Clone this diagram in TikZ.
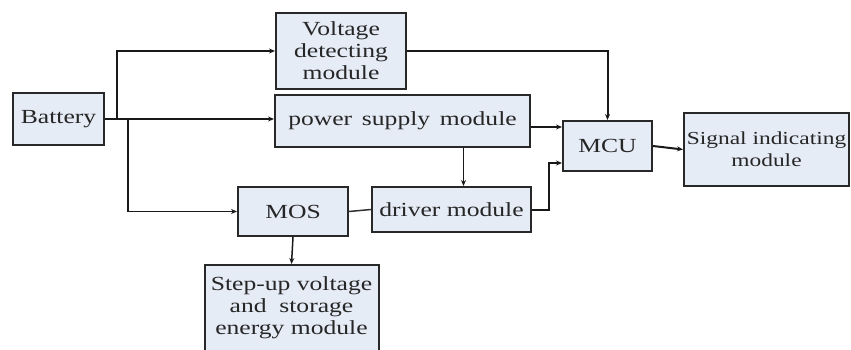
\documentclass[tikz,border=0pt]{standalone}
\usepackage{fontspec}
\setmainfont{Liberation Serif}[FakeStretch=1.28]
\usetikzlibrary{arrows.meta}
\definecolor{boxfill}{RGB}{230,236,246}
\definecolor{boxline}{RGB}{40,40,40}
\tikzset{
  box/.style={draw=boxline, line width=2pt, fill=boxfill, inner sep=2pt,
    align=center, font=\fontsize{20}{22}\selectfont, text=black!85},
  conn/.style={draw=black!90, line width=2pt, -{Stealth[length=6pt,width=5pt]}},
  plainconn/.style={draw=black!80, line width=1.5pt}
}
\begin{document}
\begin{tikzpicture}[x=1pt,y=-1pt]
\useasboundingbox (0,0) rectangle (851,350);
\node[box, minimum width=91, minimum height=52] (bat) at (58.5,119) {Battery};
\node[box, minimum width=130, minimum height=76] (vd) at (341,51) {Voltage\\detecting\\module};
\node[box, minimum width=255, minimum height=52] (ps) at (402.5,121) {power\ \,supply\ \,module};
\node[box, minimum width=89, minimum height=50] (mcu) at (607.5,146) {MCU};
\node[box, inner sep=0pt, minimum width=165, minimum height=73, font=\fontsize{18.3}{22}\selectfont] (sig) at (766.5,149.5) {Signal indicating\\module};
\node[box, minimum width=159, minimum height=45] (drv) at (451.5,209.5) {driver module};
\node[box, minimum width=110, minimum height=49] (mos) at (293,211.5) {MOS};
\node[box, minimum width=174, minimum height=86] (stp) at (291.5,308) {Step-up voltage\\and\ \ storage\\energy module};
\coordinate (j1) at (117,119);
\coordinate (j2) at (128,119);
\draw[conn] (bat.east) -- (bat.east -| ps.west);
\draw[conn] (j1) |- (vd.west);
\draw[conn, line width=1.5pt] (j2) |- (mos.west);
\draw[conn] (vd.east) -| (mcu.north);
\draw[conn, line width=1.5pt] ([yshift=-6pt]ps.east) -- ([yshift=-6pt]ps.east -| mcu.west);
\draw[conn, line width=1.5pt] ([xshift=61pt]ps.south) -- ([xshift=61pt]ps.south |- drv.north);
\draw[conn] (drv.east) -- ++(17,0) |- ([yshift=-17pt]mcu.west);
\draw[plainconn] (drv.west) -- (mos.east);
\draw[conn, line width=1.5pt] (mos.south) -- (stp.north);
\draw[conn] (mcu.east) -- (sig.west);
\end{tikzpicture}
\end{document}
